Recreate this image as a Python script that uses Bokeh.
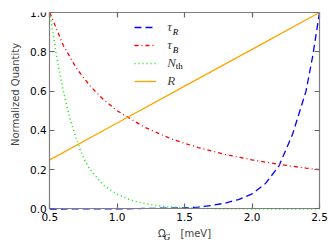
from bokeh.plotting import figure
from bokeh.models import (LinearAxis, Range1d, Legend, LegendItem, Label, FixedTicker,
                          CustomJSTickFormatter)
from bokeh.embed import file_html
from bokeh.resources import INLINE

# ---- data ----
x_tauR = [0.5, 1.0, 1.5, 1.6, 1.7, 1.8, 1.9, 2.0, 2.1, 2.2, 2.3, 2.4, 2.45, 2.5]
tauR = [0.0, 0.0005, 0.006, 0.01, 0.018, 0.03, 0.048, 0.077, 0.13, 0.22, 0.38, 0.6, 0.78, 1.0]

x_tauB = [0.5, 0.6, 0.7, 0.8, 0.9, 1.0, 1.2, 1.4, 1.6, 1.8, 2.0, 2.2, 2.4, 2.5]
tauB = [1.0, 0.833, 0.714, 0.625, 0.556, 0.5, 0.417, 0.357, 0.3125, 0.278, 0.25, 0.227, 0.208, 0.2]

x_Nth = [0.5, 0.55, 0.6, 0.65, 0.7, 0.75, 0.8, 0.9, 1.0, 1.1, 1.2, 1.3, 1.4, 1.5, 1.7, 2.0, 2.5]
Nth = [1.0, 0.78, 0.6, 0.46, 0.35, 0.26, 0.2, 0.12, 0.075, 0.045, 0.028, 0.017, 0.01, 0.006, 0.002, 0.0005, 0.0]

x_R = [0.5, 1.0, 1.5, 2.0, 2.5]
R = [0.25, 0.4375, 0.625, 0.8125, 1.0]

x_ticks = [0.5, 1.0, 1.5, 2.0, 2.5]
y_ticks = [0.0, 0.2, 0.4, 0.6, 0.8, 1.0]

FRAME = "#7f7f7f"

# The frame covers the whole canvas except a strip on top; the axes are pinned at
# the data limits, so every label (including the subscripts) lies inside the frame.
p = figure(width=330, height=241, output_backend="svg", toolbar_location=None,
           x_range=Range1d(0.1348, 2.5815), y_range=Range1d(-0.1654, 1.0),
           min_border_left=0, min_border_right=0, min_border_top=12, min_border_bottom=0)
p.background_fill_color = "white"
p.border_fill_color = "white"
p.outline_line_color = None
p.grid.visible = False

l1 = p.line(x_tauR, tauR, line_color="blue", line_width=1.3, line_dash="7 4")
l2 = p.line(x_tauB, tauB, line_color="red", line_width=1.3, line_dash="4 3 1 3")
l3 = p.line(x_Nth, Nth, line_color="#00ee00", line_width=1.5, line_dash="1 3")
l4 = p.line(x_R, R, line_color="orange", line_width=1.3)

def style(ax):
    ax.axis_line_color = FRAME
    ax.axis_line_width = 1.2
    ax.major_tick_line_color = "#666666"
    ax.major_tick_line_width = 1.2
    ax.major_tick_in = 5
    ax.major_tick_out = 0
    ax.minor_tick_line_color = None
    ax.major_label_text_font = "DejaVu Sans"
    ax.major_label_text_font_size = "10.5px"
    ax.major_label_text_color = "black"

p.xaxis.ticker = FixedTicker(ticks=x_ticks)
p.yaxis.ticker = FixedTicker(ticks=y_ticks)
p.xaxis.major_label_overrides = {0.5: "0.5", 1.0: "1.0", 1.5: "1.5", 2.0: "2.0", 2.5: "2.5"}
p.yaxis.major_label_overrides = {0.0: "0.0", 0.2: "0.2", 0.4: "0.4", 0.6: "0.6", 0.8: "0.8", 1.0: "1.0"}
style(p.xaxis[0]); style(p.yaxis[0])
p.xaxis.fixed_location = 0
p.xaxis.bounds = (0.5, 2.5)
p.yaxis.fixed_location = 0.5
p.yaxis.bounds = (0, 1)
p.xaxis.major_label_standoff = 4
p.yaxis.major_label_standoff = 3
p.yaxis.axis_label = "\u2003\u2003\u2003\u2009Normalized Quantity"
p.yaxis.axis_label_text_font = "DejaVu Sans"
p.yaxis.axis_label_text_font_size = "10px"
p.yaxis.axis_label_text_font_style = "normal"
p.yaxis.axis_label_standoff = 6
p.xaxis.axis_label = "Ω\u2002\u2002\u2002[meV]"
p.xaxis.axis_label_text_font = "DejaVu Sans"
p.xaxis.axis_label_text_font_size = "10px"
p.xaxis.axis_label_text_font_style = "normal"
p.xaxis.axis_label_standoff = 4

blank = CustomJSTickFormatter(code="return '';")
top = LinearAxis(ticker=FixedTicker(ticks=x_ticks), formatter=blank, bounds=(0.5, 2.5))
right = LinearAxis(ticker=FixedTicker(ticks=y_ticks), formatter=blank, bounds=(0, 1),
                   fixed_location=2.5)
for ax in (top, right):
    style(ax)
    ax.major_label_standoff = 0
p.add_layout(top, "above")
p.add_layout(right, "right")

legend = Legend(items=[LegendItem(label="τ", renderers=[l1]),
                       LegendItem(label="τ", renderers=[l2]),
                       LegendItem(label="N", renderers=[l3]),
                       LegendItem(label="R", renderers=[l4])],
                location=(134.3, 150.7))
legend.background_fill_alpha = 0
legend.border_line_color = None
legend.label_text_font = "Liberation Serif"
legend.label_text_font_style = "italic"
legend.label_text_font_size = "13px"
legend.glyph_width = 22
legend.label_standoff = 11
legend.spacing = 0
legend.label_height = 18
legend.glyph_height = 18
legend.padding = 0
legend.margin = 0
p.add_layout(legend, "center")

# subscripts (screen offsets from the frame's bottom-left corner)
subs = [("R", 172.3, 209.3, "italic"), ("B", 172.3, 192, "italic"), ("th", 175.3, 176, "normal"),
        ("G", 163.3, 4.5, "italic")]
for txt, sx, sy, st in subs:
    p.add_layout(Label(x=sx, y=sy, x_units="screen", y_units="screen", text=txt,
                       text_font="Liberation Serif", text_font_style=st,
                       text_font_size="9px", text_baseline="middle", text_color="black"))

out = file_html(p, INLINE)
open("out.html", "w").write(out)
